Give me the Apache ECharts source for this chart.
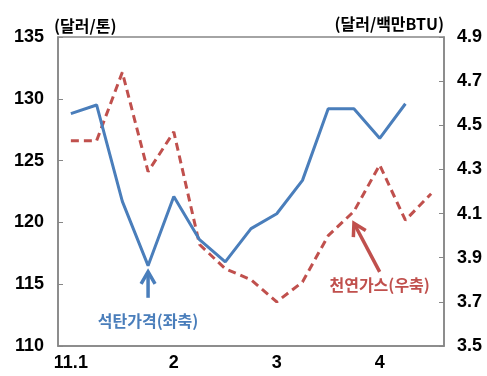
<!DOCTYPE html>
<html><head><meta charset="utf-8">
<script src="https://cdn.jsdelivr.net/npm/echarts@6/dist/echarts.min.js"></script>
<style>html,body{margin:0;padding:0;background:#fff}#c{width:487px;height:376px}</style>
</head><body><div id="c"></div>
<script>
// categories (15 periods); only some carry a tick label
const categories = ['11.1','','','','2','','','','3','','','','4','',''];
// 석탄가격 (달러/톤), left axis
const coalPrice = [128.8,129.5,121.7,116.5,122.1,118.6,116.8,119.5,120.7,123.4,129.2,129.2,126.8,129.6,null];
// 천연가스 (달러/백만BTU), right axis
const gasPrice = [4.43,4.43,4.74,4.29,4.47,3.96,3.85,3.80,3.70,3.79,4.00,4.11,4.32,4.07,4.19];
const leftTicks = {min:110, max:135, interval:5};
const rightTicks = {min:3.5, max:4.9, interval:0.2};

const BLUE = '#4a7ebb', RED = '#c0504d', AX = '#868686';
const numFont = {fontFamily:'Liberation Sans, Arial', fontWeight:'bold', fontSize:18, color:'#000'};
const cjk = 'Noto Sans CJK KR';

const chart = echarts.init(document.getElementById('c'), null, {renderer:'canvas'});
chart.setOption({
  animation:false,
  grid:{left:58, right:43, top:37, bottom:30, show:true, borderColor:AX, borderWidth:1.5, backgroundColor:'transparent'},
  xAxis:{type:'category', data:categories, boundaryGap:true,
    axisLine:{lineStyle:{color:AX, width:1.5}},
    axisTick:{inside:true, length:5, lineStyle:{color:AX, width:1}, interval:(i)=>i===14},
    axisLabel:Object.assign({interval:0, margin:8}, numFont),
    splitLine:{show:false}},
  yAxis:[
    {type:'value', min:leftTicks.min, max:leftTicks.max, interval:leftTicks.interval,
     name:'(달러/톤)', nameLocation:'end', nameGap:3,
     nameTextStyle:{fontFamily:cjk, fontWeight:'bold', fontSize:16, color:'#000', align:'left', padding:[0,0,0,-4]},
     axisLine:{show:true, lineStyle:{color:AX, width:1.5}},
     axisTick:{show:true, inside:true, length:5, lineStyle:{color:AX}},
     axisLabel:Object.assign({margin:14}, numFont),
     splitLine:{show:false}},
    {type:'value', min:rightTicks.min, max:rightTicks.max, interval:rightTicks.interval,
     name:'(달러/백만BTU)', nameLocation:'end', nameGap:5,
     nameTextStyle:{fontFamily:cjk, fontWeight:'bold', fontSize:16, color:'#000', align:'right', padding:[0,0,0,0]},
     axisLine:{show:true, lineStyle:{color:AX, width:1.5}},
     axisTick:{show:true, inside:true, length:5, lineStyle:{color:AX}},
     axisLabel:Object.assign({margin:13, formatter:(v)=>v.toFixed(1)}, numFont),
     splitLine:{show:false}}
  ],
  series:[
    {name:'석탄가격', type:'line', yAxisIndex:0, data:coalPrice, symbol:'none',
     lineStyle:{color:BLUE, width:3}, z:3},
    {name:'천연가스', type:'line', yAxisIndex:1, data:gasPrice, symbol:'none',
     lineStyle:{color:RED, width:3, type:[8,5]}, z:2}
  ]
});

// annotations placed in data space
function px(idx, val, axis){ return chart.convertToPixel({xAxisIndex:0, yAxisIndex:axis}, [idx, val]); }
function arrow(tail, tip, color){
  const dx = tip[0]-tail[0], dy = tip[1]-tail[1], L = Math.hypot(dx,dy);
  const ux = dx/L, uy = dy/L, nx = -uy, ny = ux, hl = 12, hw = 7;
  return [
    {type:'line', shape:{x1:tail[0], y1:tail[1], x2:tip[0]-ux*2, y2:tip[1]-uy*2}, style:{stroke:color, lineWidth:3.5}},
    {type:'polyline', shape:{points:[[tip[0]-ux*hl+nx*hw, tip[1]-uy*hl+ny*hw],[tip[0],tip[1]],[tip[0]-ux*hl-nx*hw, tip[1]-uy*hl-ny*hw]]},
     style:{stroke:color, lineWidth:3.5, fill:null}}
  ];
}
const bTip = px(3, 116.0, 0), bTail = px(3, 113.9, 0);
const rTip = px(10.91, 4.056, 1), rTail = px(11.88, 3.836, 1);
const bText = px(3.15, 112.0, 0), rText = px(11.97, 3.776, 1);
chart.setOption({graphic:[].concat(
  arrow(bTail, bTip, BLUE),
  arrow(rTail, rTip, RED),
  [{type:'text', x:bText[0], y:bText[1], style:{text:'석탄가격(좌축)', fontFamily:cjk, fontWeight:'bold', fontSize:16, fill:BLUE, align:'center', verticalAlign:'middle'}},
   {type:'text', x:rText[0], y:rText[1], style:{text:'천연가스(우축)', fontFamily:cjk, fontWeight:'bold', fontSize:16, fill:RED, align:'center', verticalAlign:'middle'}}]
)});
</script></body></html>
